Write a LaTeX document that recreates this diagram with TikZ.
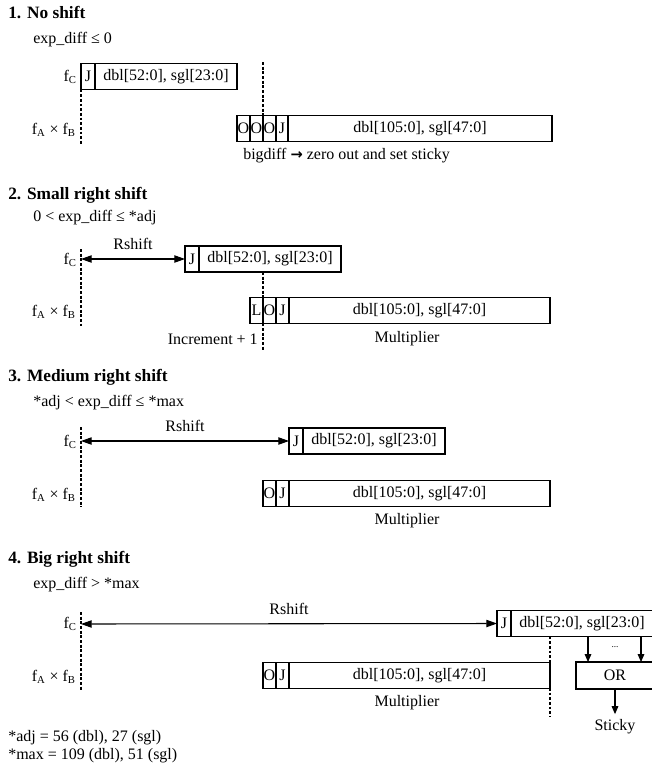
\documentclass[tikz,border=0pt]{standalone}
\usepackage{fontspec}
\setmainfont{Liberation Serif}
\newfontfamily\arrowfont{DejaVu Sans}
\usepackage{tikz}
\usetikzlibrary{positioning,arrows.meta}
\tikzset{
  bitbox/.style={draw, line width=0.8pt, minimum height=19.5pt, inner sep=0pt, outer sep=0pt, anchor=west},
  cw/.style={minimum width=#1*0.75pt},
  cutline/.style={line width=1.1pt, dash pattern=on 2.2pt off 1.3pt},
  shiftarr/.style={{Triangle[length=8pt,width=5.5pt]}-{Triangle[length=8pt,width=5.5pt]}, line width=0.8pt},
  downarr/.style={-{Triangle[length=6pt,width=5pt]}, line width=0.8pt},
  sectitle/.style={anchor=west, inner sep=0pt, font=\fontsize{13}{15}\selectfont\bfseries},
  txt/.style={inner sep=0pt}
}
\begin{document}
\begin{tikzpicture}[x=0.75pt,y=-0.75pt,every node/.style={font=\fontsize{12}{14}\selectfont}]
\useasboundingbox (0,0) rectangle (652,772);

\node[sectitle] (t1) at (8,13) {1. No shift};
\node[txt, anchor=west] (c1) at (33,40) {exp\_diff ≤ 0};
\node[bitbox, cw=14] (jc1) at (81,76.5) {J};
\node[bitbox, cw=142, right=0pt of jc1] (fc1) {dbl[52:0], sgl[23:0]};
\node[txt, anchor=east] (lc1) at (77,77) {f\textsubscript{C}};
\node[txt, anchor=east] (lab1) at (76,130) {f\textsubscript{A} × f\textsubscript{B}};
\coordinate (cut1b) at (81,145);
\draw[cutline] (jc1.south west) -- (cut1b);
\node[bitbox, cw=13] (o1a) at (237,128.5) {O};
\node[bitbox, cw=13, right=0pt of o1a] (o1b) {O};
\node[bitbox, cw=13, right=0pt of o1b] (o1c) {O};
\node[bitbox, cw=12, right=0pt of o1c] (jp1) {J};
\node[bitbox, cw=264, right=0pt of jp1] (mp1) {dbl[105:0], sgl[47:0]};
\coordinate (cut2t) at (263,62);
\draw[cutline] (cut2t) -- (o1b.north east);
\node[txt, anchor=west] (note1) at (243,156) {bigdiff {\arrowfont\bfseries\fontsize{11}{13}\selectfont →} zero out and set sticky};

\node[sectitle] (t2) at (8,195) {2. Small right shift};
\node[txt, anchor=west] (c2) at (33,218) {0 < exp\_diff ≤ *adj};
\node[bitbox, cw=14] (jc2) at (185,259) {J};
\node[bitbox, cw=142, right=0pt of jc2] (fc2) {dbl[52:0], sgl[23:0]};
\node[txt, anchor=east] (lc2) at (77,260) {f\textsubscript{C}};
\node[txt, anchor=east] (lab2) at (76,312) {f\textsubscript{A} × f\textsubscript{B}};
\coordinate (cut3t) at (81,249);
\coordinate (cut3b) at (81,326);
\draw[cutline] (cut3t) -- (cut3b);
\coordinate (rs2) at (81,259);
\draw[shiftarr] (rs2) -- node[above=3pt] (rl2) {Rshift} (jc2.west);
\node[bitbox, cw=13] (l2) at (250,310.5) {L};
\node[bitbox, cw=13, right=0pt of l2] (o2) {O};
\node[bitbox, cw=13, right=0pt of o2] (jp2) {J};
\node[bitbox, cw=261, right=0pt of jp2] (mp2) {dbl[105:0], sgl[47:0]};
\coordinate (cut4b) at (263,351);
\draw[cutline] (l2.east |- fc2.south) -- (cut4b);
\node[txt, anchor=east] (inc2) at (258,339) {Increment + 1};
\node[txt] (mul2) at (407,339) {Multiplier};

\node[sectitle] (t3) at (8,377) {3. Medium right shift};
\node[txt, anchor=west] (c3) at (33,403) {*adj < exp\_diff ≤ *max};
\node[bitbox, cw=14] (jc3) at (289,441) {J};
\node[bitbox, cw=142, right=0pt of jc3] (fc3) {dbl[52:0], sgl[23:0]};
\node[txt, anchor=east] (lc3) at (77,442) {f\textsubscript{C}};
\node[txt, anchor=east] (lab3) at (76,495) {f\textsubscript{A} × f\textsubscript{B}};
\coordinate (cut5t) at (81,427);
\coordinate (cut5b) at (81,507);
\draw[cutline] (cut5t) -- (cut5b);
\coordinate (rs3) at (81,441);
\draw[shiftarr] (rs3) -- node[above=3pt] (rl3) {Rshift} (jc3.west);
\node[bitbox, cw=13] (o3) at (263,493.5) {O};
\node[bitbox, cw=13, right=0pt of o3] (jp3) {J};
\node[bitbox, cw=261, right=0pt of jp3] (mp3) {dbl[105:0], sgl[47:0]};
\node[txt] (mul3) at (407,521) {Multiplier};

\node[sectitle] (t4) at (8,559) {4. Big right shift};
\node[txt, anchor=west] (c4) at (33,585) {exp\_diff > *max};
\node[bitbox, cw=14] (jc4) at (497,623.5) {J};
\node[bitbox, cw=142, right=0pt of jc4] (fc4) {dbl[52:0], sgl[23:0]};
\node[txt, anchor=east] (lc4) at (77,624) {f\textsubscript{C}};
\node[txt, anchor=east] (lab4) at (76,677) {f\textsubscript{A} × f\textsubscript{B}};
\coordinate (cut6t) at (81,612);
\coordinate (cut6b) at (81,690);
\draw[cutline] (cut6t) -- (cut6b);
\coordinate (rs4) at (81,624);
\draw[shiftarr] (rs4) -- node[above=3pt] (rl4) {Rshift} (jc4.west);
\node[bitbox, cw=13] (o4) at (263,675.5) {O};
\node[bitbox, cw=13, right=0pt of o4] (jp4) {J};
\node[bitbox, cw=261, right=0pt of jp4] (mp4) {dbl[105:0], sgl[47:0]};
\node[txt] (mul4) at (407,703) {Multiplier};
\coordinate (cut7b) at (550,716);
\draw[cutline] (mp4.east |- fc4.south) -- (cut7b);
\node[bitbox, cw=78, minimum height=20.25pt] (or4) at (576,675.5) {OR};
\coordinate (in4a) at (588,636);
\coordinate (in4b) at (641,636);
\draw[downarr] (in4a) -- (in4a |- or4.north);
\draw[downarr] (in4b) -- (in4b |- or4.north);
\node[font=\scriptsize, inner sep=0pt] (dots4) at (615,647) {...};
\node[txt] (stk) at (615,727) {Sticky};
\draw[downarr, shorten >=4pt] (or4.south) -- (stk.north);

\node[txt, anchor=west] (fn1) at (8,738) {*adj = 56 (dbl), 27 (sgl)};
\node[txt, anchor=west] (fn2) at (8,756) {*max = 109 (dbl), 51 (sgl)};
\end{tikzpicture}
\end{document}
